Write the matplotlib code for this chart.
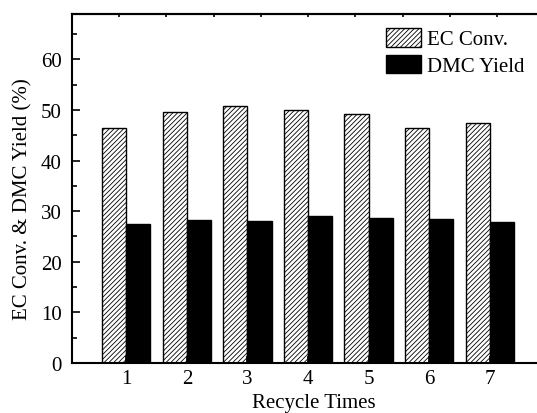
import matplotlib
matplotlib.use("Agg")
import matplotlib.pyplot as plt
import numpy as np

cycles = [1, 2, 3, 4, 5, 6, 7]
ec_conv = [46.5, 49.6, 50.8, 49.9, 49.2, 46.5, 47.5]
dmc_yield = [27.5, 28.3, 28.1, 29.1, 28.6, 28.5, 27.8]
y_ticks = [0, 10, 20, 30, 40, 50, 60]

plt.rcParams['font.family'] = ['Liberation Serif', 'DejaVu Serif']
plt.rcParams['hatch.linewidth'] = 0.6

fig = plt.figure(figsize=(5.37, 4.14), dpi=100)
ax = fig.add_axes([71.7 / 537, 50 / 414, 472.7 / 537, 349.3 / 414])

x = np.array(cycles, dtype=float)
w = 0.4
ax.bar(x - w / 2, ec_conv, width=w, facecolor='white', edgecolor='black',
       hatch='///////', linewidth=1.0, label='EC Conv.')
ax.bar(x + w / 2, dmc_yield, width=w, facecolor='black', edgecolor='black',
       linewidth=1.0, label='DMC Yield')

ax.set_xlim(0.1, 7.9)
ax.set_ylim(0, 69)
ax.set_xticks(cycles)
ax.set_xticklabels([str(c) for c in cycles])
ax.set_yticks(y_ticks)
ax.set_yticks(np.arange(5, 69, 10), minor=True)

for s in ax.spines.values():
    s.set_linewidth(1.5)

ax.tick_params(axis='y', which='major', direction='in', length=6, width=1.2,
               labelsize=15, pad=7)
ax.tick_params(axis='y', which='minor', direction='in', length=3.5, width=1.2)
ax.tick_params(axis='x', which='major', direction='in', length=5, width=1.2,
               labelsize=15, pad=4.5)

# top axis ticks
top = ax.secondary_xaxis('top')
top.set_xticks(0.1 + 0.78 * np.arange(11))
top.tick_params(direction='in', length=2, width=1.2, labeltop=False)
top.spines['top'].set_linewidth(1.5)

ax.set_xlabel('Recycle Times', fontsize=15)
ax.set_ylabel('EC Conv. & DMC Yield (%)', fontsize=15)
ax.xaxis.set_label_coords(0.512, -0.087)
ax.yaxis.set_label_coords(-0.083, 0.472)

leg = ax.legend(loc='upper left', bbox_to_anchor=(386 / 537, 1 - 29 / 414),
                bbox_transform=fig.transFigure, frameon=False, fontsize=15,
                handlelength=1.7, handleheight=1.0, handletextpad=0.25,
                labelspacing=0.25, borderpad=0, borderaxespad=0)

fig.savefig('out.png', dpi=100)
